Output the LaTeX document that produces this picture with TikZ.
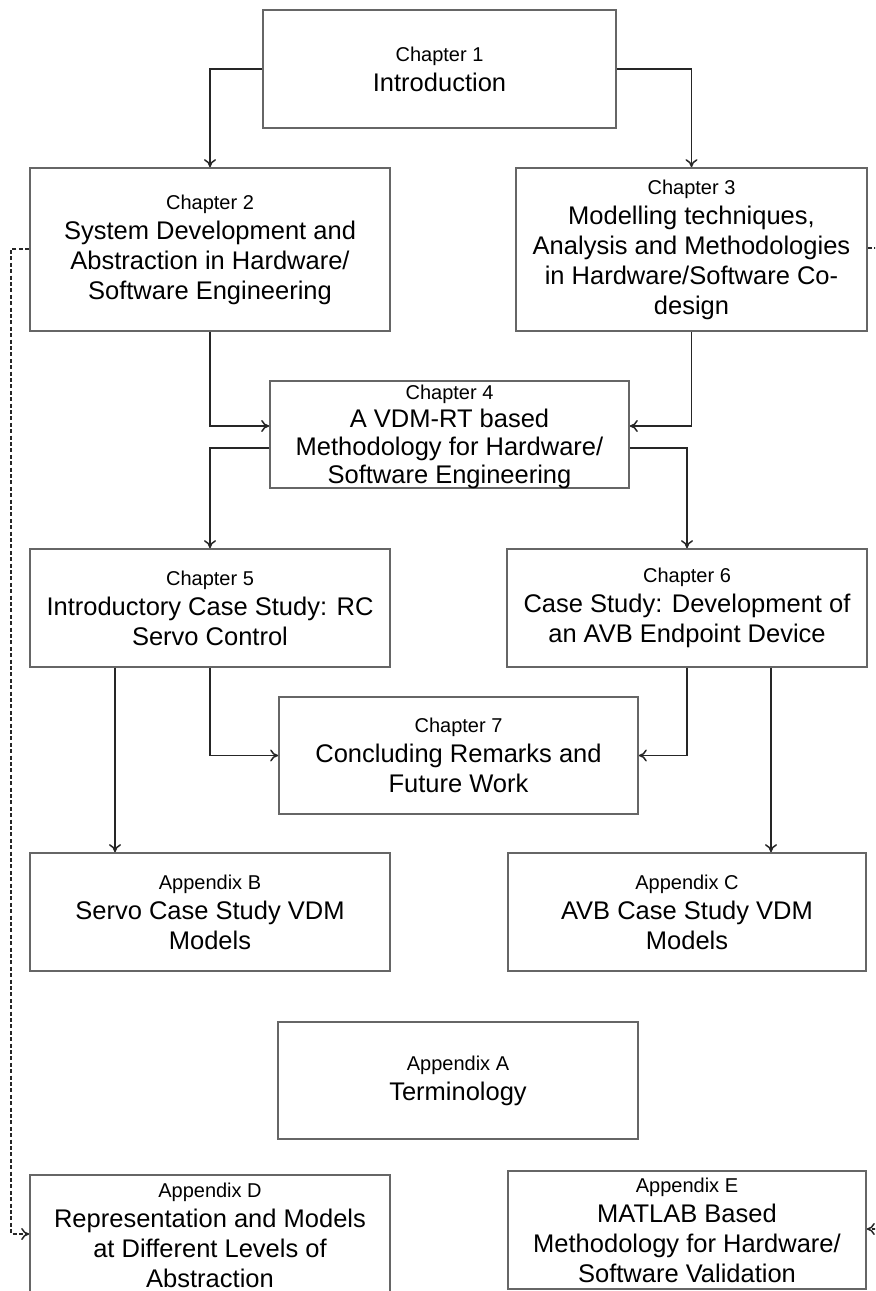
\documentclass[tikz,border=0pt]{standalone}
\usepackage{fontspec}
\setmainfont{Liberation Sans}
\usetikzlibrary{arrows.meta}
\newcommand{\mainfs}{\fontsize{12.75pt}{15pt}\selectfont}
\newcommand{\tightfs}{\fontsize{12.75pt}{14pt}\selectfont}
\newcommand{\labfs}{\fontsize{10pt}{12pt}\selectfont}
\begin{document}
\begin{tikzpicture}[x=0.5pt,y=-0.5pt,
  box/.style={draw=black!60, line width=0.85pt, fill=white, inner sep=0pt,
    align=center, font=\mainfs, text=black},
  txt/.style={inner sep=0pt, align=center, font=\tightfs, text=black},
  link/.style={draw=black!85, line width=0.75pt, -{To[length=4pt,width=6pt]}},
  dlink/.style={draw=black!85, line width=0.75pt, dash pattern=on 2pt off 1.2pt,
    -{To[length=4pt,width=6pt]}}]
\useasboundingbox (0,0) rectangle (875,1291);
\clip (0,0) rectangle (875,1291);
\fill[white] (0,0) rectangle (875,1291);

% chapters
\node[box, minimum width=176.5pt, minimum height=59pt] (ch1) at (439.5,69)
  {{\labfs Chapter 1}\\Introduction};
\node[box, minimum width=180pt, minimum height=81.5pt] (ch2) at (210,249.5)
  {{\labfs Chapter 2}\\System Development and\\Abstraction in Hardware/\\Software Engineering};
\node[box, minimum width=175.5pt, minimum height=81.5pt] (ch3) at (691.5,249.5)
  {{\labfs Chapter 3}\\Modelling techniques,\\Analysis and Methodologies\\in Hardware/Software Co-\\design};
\node[box, minimum width=179.5pt, minimum height=53.5pt] (ch4) at (449.5,434.5) {};
\node[txt] (ch4t) at (449.5,436.5)
  {{\labfs Chapter 4}\\A VDM-RT based\\Methodology for Hardware/\\Software Engineering};
\node[box, minimum width=180pt, minimum height=59pt] (ch5) at (210,608)
  {{\labfs Chapter 5}\\Introductory Case Study: RC\\Servo Control};
\node[box, minimum width=180pt, minimum height=59pt] (ch6) at (687,608)
  {{\labfs Chapter 6}\\Case Study: Development of\\an AVB Endpoint Device};
\node[box, minimum width=179.5pt, minimum height=58.5pt] (ch7) at (458.5,755.5)
  {{\labfs Chapter 7}\\Concluding Remarks and\\Future Work};

% appendices
\node[box, minimum width=180pt, minimum height=59pt] (appB) at (210,912)
  {{\labfs Appendix B}\\Servo Case Study VDM\\Models};
\node[box, minimum width=179pt, minimum height=59pt] (appC) at (687,912)
  {{\labfs Appendix C}\\AVB Case Study VDM\\Models};
\node[box, minimum width=180pt, minimum height=58.5pt] (appA) at (458,1080.5)
  {{\labfs Appendix A}\\Terminology};
\node[box, minimum width=180pt, minimum height=60pt] (appD) at (210,1235)
  {{\labfs Appendix D}\\Representation and Models\\at Different Levels of\\Abstraction};
\node[box, minimum width=179pt, minimum height=59pt] (appE) at (687,1230)
  {{\labfs Appendix E}\\MATLAB Based\\Methodology for Hardware/\\Software Validation};

% routing points
\coordinate (in4) at (0,426);
\coordinate (out4) at (0,448);
\coordinate (b5) at (115,0);
\coordinate (c6) at (771,0);
\coordinate (dl) at (11,249);
\coordinate (dlend) at (0,1234);
\coordinate (dr) at (884,248);
\coordinate (drend) at (0,1229);

% solid connectors
\draw[link] (ch1.west) -| (ch2.north);
\draw[link] (ch1.east) -| (ch3.north);
\draw[link] (ch2.south) |- (ch4.west |- in4);
\draw[link] (ch3.south) |- (ch4.east |- in4);
\draw[link] (ch4.west |- out4) -| (ch5.north);
\draw[link] (ch4.east |- out4) -| (ch6.north);
\draw[link] (ch5.south) |- (ch7.west);
\draw[link] (ch6.south) |- (ch7.east);
\draw[link] (ch5.south -| b5) -- (appB.north -| b5);
\draw[link] (ch6.south -| c6) -- (appC.north -| c6);

% dashed connectors
\draw[dlink] (ch2.west |- dl) -- (dl) -- (dl |- dlend) -- (appD.west |- dlend);
\draw[dlink] (ch3.east |- dr) -- (dr) -- (dr |- drend) -- (appE.east |- drend);
\end{tikzpicture}
\end{document}
